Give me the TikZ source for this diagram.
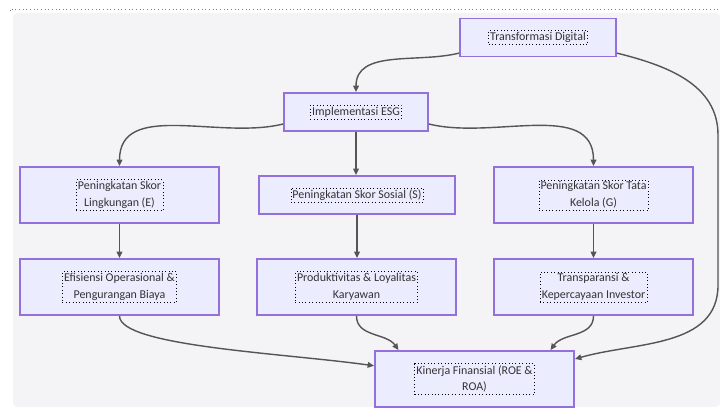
\documentclass[tikz,border=0pt]{standalone}
\usepackage{fontspec}
\setmainfont{Carlito}
\usetikzlibrary{arrows.meta}
\definecolor{boxfill}{HTML}{ECECFF}
\definecolor{boxline}{HTML}{9370DB}
\definecolor{bgpanel}{HTML}{F4F4F6}
\definecolor{edgegray}{HTML}{555555}
\definecolor{txtgray}{HTML}{333333}
\begin{document}
\begin{tikzpicture}[
x=0.025cm, y=-0.025cm,
box/.style={rectangle, draw=boxline, fill=boxfill, line width=1.3pt, minimum width=4.975cm, minimum height=1.4cm},
thinbox/.style={box, minimum height=0.95cm},
txt/.style={draw=black, dotted, thin, inner sep=1.2pt, align=center, text=txtgray, font=\fontsize{8.5}{12}\selectfont},
flow/.style={draw=edgegray, line width=1pt, -{Triangle[length=1.6mm, width=1.4mm]}},
]
\useasboundingbox (0,0) rectangle (720,407);
\fill[bgpanel, rounded corners=3pt] (13,407) -- (13,13) -- (720,13) -- (720,407) -- cycle;
\draw[gray, dotted, line width=0.6pt] (10,11) -- (10,9) -- (720,9);

\node[thinbox, minimum width=3.9cm] (tdig) at (538,37.5) [label={[txt]center:Transformasi Digital}] {};
\node[thinbox, minimum width=3.6cm] (esg) at (356,112) [label={[txt]center:Implementasi ESG}] {};
\node[box] (envi) at (119.5,195) [label={[txt]center:{Peningkatan Skor\\Lingkungan (E)}}] {};
\node[thinbox, minimum width=4.9cm] (sosi) at (357,195) [label={[txt]center:Peningkatan Skor Sosial (S)}] {};
\node[box] (gove) at (593.5,195) [label={[txt]center:{Peningkatan Skor Tata\\Kelola (G)}}] {};
\node[box] (effi) at (119.5,287) [label={[txt]center:{Efisiensi Operasional \&\\Pengurangan Biaya}}] {};
\node[box] (prod) at (356.5,287) [label={[txt]center:{Produktivitas \& Loyalitas\\Karyawan}}] {};
\node[box] (tran) at (593.5,287) [label={[txt]center:{Transparansi \&\\Kepercayaan Investor}}] {};
\node[box] (kine) at (474.5,379) [label={[txt]center:{Kinerja Finansial (ROE \&\\ROA)}}] {};
\coordinate (rtop) at (718,135);
\coordinate (rbot) at (718,285);

\draw[flow] ([yshift=-0.39cm]tdig.west) to[out=194, in=90] (esg.north);
\draw[flow] ([yshift=-0.39cm]tdig.east) to[out=-14, in=90] (rtop) -- (rbot) to[out=-90, in=16] ([yshift=0.5cm]kine.east);
\draw[flow] ([yshift=-0.3cm]esg.west) to[out=194, in=90] (envi.north);
\draw[flow] (esg.south) -- (esg.south |- sosi.north);
\draw[flow] ([yshift=-0.3cm]esg.east) to[out=-14, in=90] (gove.north);
\draw[flow] (envi) -- (effi);
\draw[flow] (sosi) -- (sosi |- prod.north);
\draw[flow] (gove) -- (tran);
\draw[flow] (effi.south) to[out=-90, in=172, out looseness=0.3, in looseness=0.9] ([yshift=0.33cm]kine.west);
\draw[flow] (prod.south) to[out=-90, in=125] ([xshift=-1.9cm]kine.north);
\draw[flow] (tran.south) to[out=-90, in=55] ([xshift=1.9cm]kine.north);
\end{tikzpicture}
\end{document}
